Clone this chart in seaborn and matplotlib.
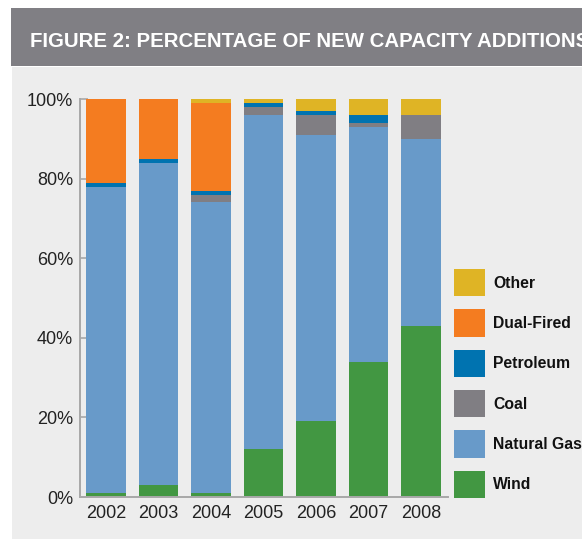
import numpy as np
import seaborn as sns
import matplotlib.pyplot as plt
from matplotlib.patches import Rectangle, Patch

years = ["2002", "2003", "2004", "2005", "2006", "2007", "2008"]
wind = [1, 3, 1, 12, 19, 34, 43]
natural_gas = [77, 81, 73, 84, 72, 59, 47]
coal = [0, 0, 2, 2, 5, 1, 6]
petroleum = [1, 1, 1, 1, 1, 2, 0]
dual_fired = [21, 15, 22, 0, 0, 0, 0]
other = [0, 0, 1, 1, 3, 4, 4]

layers = [
    ("Wind", wind, "#429742"),
    ("Natural Gas", natural_gas, "#689ac9"),
    ("Coal", coal, "#807e83"),
    ("Petroleum", petroleum, "#0073b0"),
    ("Dual-Fired", dual_fired, "#f47c20"),
    ("Other", other, "#dfb425"),
]

sns.set_style("white")
plt.rcParams["font.family"] = ["Liberation Sans", "DejaVu Sans"]

W, H = 582, 539
fig = plt.figure(figsize=(W / 100, H / 100), dpi=100, facecolor="white")

# background panels (behind the axes)
fig.patches.append(Rectangle((12 / W, 0), 1, (H - 67) / H, transform=fig.transFigure,
                             facecolor="#ededed", edgecolor="none", zorder=-10))
fig.patches.append(Rectangle((11 / W, (H - 66) / H), 1, 58 / H, transform=fig.transFigure,
                             facecolor="#807f84", edgecolor="none", zorder=-10))
# the banner title runs past the right edge, as in the source image
fig.text(30 / W, (H - 47) / H, "FIGURE 2: PERCENTAGE OF NEW CAPACITY ADDITIONS",
         color="white", fontsize=14.7, fontweight="bold", va="baseline", ha="left")

ax = fig.add_axes([80 / W, (H - 497) / H, (448 - 80) / W, (497 - 99) / H])
ax.set_facecolor("none")

bottom = np.zeros(len(years))
for name, vals, col in layers:
    sns.barplot(x=years, y=vals, bottom=bottom, color=col, saturation=1,
                width=0.76, errorbar=None, ax=ax, zorder=2,
                linewidth=0, edgecolor="none")
    bottom = bottom + np.array(vals)

ax.set_xlim(-0.495, 6.514)
ax.set_ylim(0, 100)
ax.set_yticks([0, 20, 40, 60, 80, 100])
ax.set_yticklabels([f"{v}%" for v in range(0, 101, 20)])
ax.tick_params(axis="y", direction="in", length=6, width=1.2, color="#a8a8a8",
               labelsize=13, labelcolor="#222222", pad=5, left=True)
ax.tick_params(axis="x", length=0, labelsize=13, labelcolor="#222222", pad=6)
ax.set_xlabel("")
ax.set_ylabel("")
for s in ["top", "right"]:
    ax.spines[s].set_visible(False)
for s in ["left", "bottom"]:
    ax.spines[s].set_color("#a8a8a8")
    ax.spines[s].set_linewidth(1.4)

handles = [Patch(facecolor=col, edgecolor="none", label=name) for name, _, col in layers[::-1]]
leg = fig.legend(handles=handles, loc="upper left", bbox_to_anchor=(454 / W, (H - 269) / H),
                 frameon=False, borderpad=0, borderaxespad=0,
                 prop={"size": 11.3, "weight": "bold"},
                 handlelength=1.98, handleheight=2.3, labelspacing=0.83, handletextpad=0.5)
for t in leg.get_texts():
    t.set_color("#111111")

fig.savefig("out.png", dpi=100, facecolor="white")
